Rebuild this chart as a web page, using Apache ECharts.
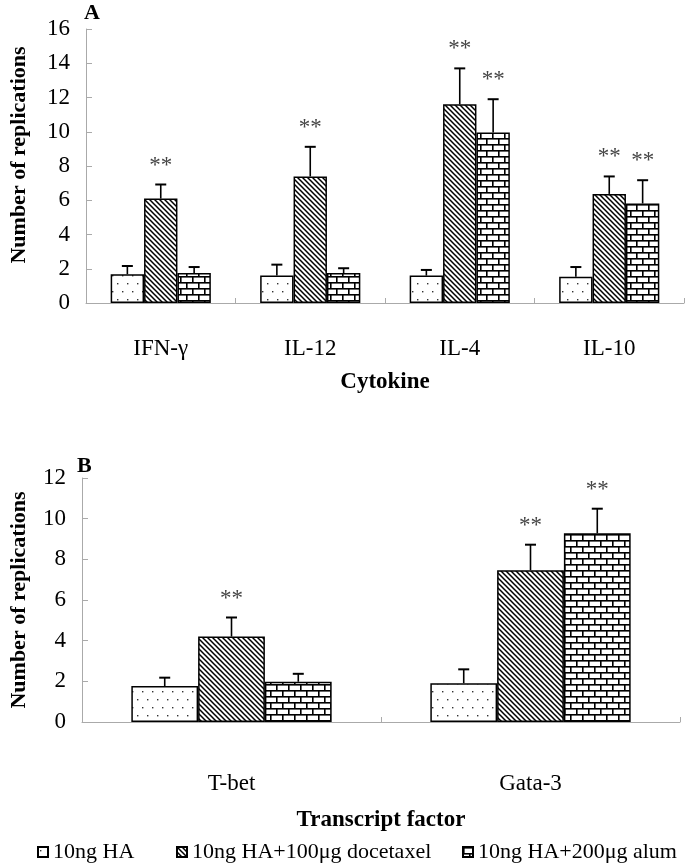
<!DOCTYPE html>
<html>
<head>
<meta charset="utf-8">
<script src="https://cdn.jsdelivr.net/npm/echarts@6/dist/echarts.min.js"></script>
<style>
html,body{margin:0;padding:0;background:#fff;}
#chart{width:685px;height:864px;}
</style>
</head>
<body>
<div id="chart"></div>
<script>
// ---- Data ----
var seriesNames = ['10ng HA', '10ng HA+100\u03bcg docetaxel', '10ng HA+200\u03bcg alum'];

var categoriesA = ['IFN-\u03b3', 'IL-12', 'IL-4', 'IL-10'];
var haA = [1.68, 1.6, 1.6, 1.54];
var haErrA = [0.48, 0.64, 0.33, 0.56];
var docA = [6.1, 7.39, 11.6, 6.37];
var docErrA = [0.82, 1.73, 2.1, 1.02];
var alumA = [1.75, 1.75, 9.96, 5.81];
var alumErrA = [0.35, 0.28, 1.94, 1.36];
var haSigA = [0, 0, 0, 0];
var docSigA = [1, 1, 1, 1];
var alumSigA = [0, 0, 1, 1];
var yTicksA = [0, 2, 4, 6, 8, 10, 12, 14, 16];

var categoriesB = ['T-bet', 'Gata-3'];
var haB = [1.77, 1.91];
var haErrB = [0.41, 0.68];
var docB = [4.2, 7.46];
var docErrB = [0.94, 1.26];
var alumB = [1.98, 9.28];
var alumErrB = [0.39, 1.21];
var haSigB = [0, 0];
var docSigB = [1, 1];
var alumSigB = [0, 1];
var yTicksB = [0, 2, 4, 6, 8, 10, 12];

// ---- Patterns ----
function makeCanvas(w, h, draw) {
  var c = document.createElement('canvas');
  c.width = w; c.height = h;
  var ctx = c.getContext('2d');
  ctx.fillStyle = '#fff';
  ctx.fillRect(0, 0, w, h);
  draw(ctx);
  return c;
}
var dotCanvas = makeCanvas(10, 16, function (ctx) {
  ctx.fillStyle = '#333';
  ctx.fillRect(2, 3, 1.4, 1.4);
  ctx.fillRect(7, 11, 1.4, 1.4);
});
var hatchCanvas = makeCanvas(5, 5, function (ctx) {
  ctx.strokeStyle = '#000';
  ctx.lineWidth = 1.5;
  ctx.beginPath();
  ctx.moveTo(-1, -1); ctx.lineTo(6, 6);
  ctx.moveTo(4, -1); ctx.lineTo(6, 1);
  ctx.moveTo(-1, 4); ctx.lineTo(1, 6);
  ctx.stroke();
});
var brickCanvas = makeCanvas(12, 12, function (ctx) {
  ctx.fillStyle = '#000';
  ctx.fillRect(0, 0, 12, 1.6);
  ctx.fillRect(0, 6, 12, 1.6);
  ctx.fillRect(0, 0, 1.6, 6);
  ctx.fillRect(6, 6, 1.6, 6);
});
var fills = [
  { image: dotCanvas, repeat: 'repeat' },
  { image: hatchCanvas, repeat: 'repeat' },
  { image: brickCanvas, repeat: 'repeat' }
];

var FONT = 'Liberation Serif';
var GAP = 0.33;

function errRender(k) {
  return function (params, api) {
    var ci = api.value(0), v = api.value(1), e = api.value(2), s = api.value(3);
    var base = api.coord([ci, v]);
    var band = api.size([1, 0])[0];
    var w = band * (1 - GAP) / 3;
    var x = base[0] + (k - 1) * w;
    var yTop = api.coord([ci, v + e])[1];
    var children = [
      { type: 'line', shape: { x1: x, y1: base[1], x2: x, y2: yTop }, style: { stroke: '#000', lineWidth: 1.6 } },
      { type: 'line', shape: { x1: x - 5.5, y1: yTop, x2: x + 5.5, y2: yTop }, style: { stroke: '#000', lineWidth: 2 } }
    ];
    if (s) {
      children.push({ type: 'text', style: { text: '**', x: x, y: yTop - 19, textAlign: 'center', textVerticalAlign: 'middle', font: '23px "Liberation Serif"', fill: '#444' } });
    }
    return { type: 'group', children: children };
  };
}

function buildSeries(gridIdx, vals, errs, sigs) {
  var out = [];
  for (var k = 0; k < 3; k++) {
    out.push({
      name: seriesNames[k], type: 'bar', xAxisIndex: gridIdx, yAxisIndex: gridIdx,
      data: vals[k], barGap: '0%', barCategoryGap: (GAP * 100) + '%',
      itemStyle: { color: fills[k], borderColor: '#000', borderWidth: 1.5 },
      animation: false
    });
  }
  for (var k2 = 0; k2 < 3; k2++) {
    var d = vals[k2].map(function (v, i) { return [i, v, errs[k2][i], sigs[k2][i]]; });
    out.push({
      type: 'custom', xAxisIndex: gridIdx, yAxisIndex: gridIdx, data: d,
      renderItem: errRender(k2), encode: { x: 0, y: 1 }, z: 5, silent: true, animation: false
    });
  }
  return out;
}

var series = buildSeries(0, [haA, docA, alumA], [haErrA, docErrA, alumErrA], [haSigA, docSigA, alumSigA])
  .concat(buildSeries(1, [haB, docB, alumB], [haErrB, docErrB, alumErrB], [haSigB, docSigB, alumSigB]));

function xAxis(gridIdx, cats, name, gap, margin) {
  return {
    type: 'category', gridIndex: gridIdx, data: cats,
    name: name, nameLocation: 'middle', nameGap: gap,
    nameTextStyle: { fontFamily: FONT, fontWeight: 'bold', fontSize: 23, color: '#000' },
    axisLine: { lineStyle: { color: '#aaa', width: 1 } },
    axisTick: { show: true, inside: true, length: 5, lineStyle: { color: '#aaa' } },
    axisLabel: { fontFamily: FONT, fontSize: 23, color: '#000', margin: margin }
  };
}
function yAxis(gridIdx, ticks, gap, pad) {
  return {
    type: 'value', gridIndex: gridIdx, min: ticks[0], max: ticks[ticks.length - 1], interval: ticks[1] - ticks[0],
    name: 'Number of replications', nameLocation: 'middle', nameGap: gap, nameRotate: 90,
    nameTextStyle: { fontFamily: FONT, fontWeight: 'bold', fontSize: 22, color: '#000', padding: [0, 0, 0, pad] },
    axisLine: { show: true, lineStyle: { color: '#aaa', width: 1 } },
    axisTick: { show: true, inside: true, length: 6, lineStyle: { color: '#aaa' } },
    splitLine: { show: false },
    axisLabel: { fontFamily: FONT, fontSize: 23, color: '#000', margin: 16 }
  };
}

var legends = [32, 171, 457].map(function (left, i) {
  return {
    left: left, top: 836, data: [seriesNames[i]], icon: 'rect', itemWidth: 10, itemHeight: 10, itemGap: 5,
    textStyle: { fontFamily: FONT, fontSize: 22, color: '#000' }, selectedMode: false
  };
});

var option = {
  backgroundColor: '#fff',
  animation: false,
  grid: [
    { left: 85, top: 29, right: 1, height: 274 },
    { left: 81, top: 478, right: 5, height: 244 }
  ],
  xAxis: [xAxis(0, categoriesA, 'Cytokine', 68, 34), xAxis(1, categoriesB, 'Transcript factor', 87, 50)],
  yAxis: [yAxis(0, yTicksA, 56, 22), yAxis(1, yTicksB, 52, 0)],
  legend: legends,
  graphic: [
    { type: 'text', left: 84, top: 2, style: { text: 'A', font: 'bold 22px "Liberation Serif"', fill: '#000' } },
    { type: 'text', left: 77, top: 455, style: { text: 'B', font: 'bold 22px "Liberation Serif"', fill: '#000' } }
  ],
  series: series
};

var chart = echarts.init(document.getElementById('chart'), null, { renderer: 'canvas' });
chart.setOption(option);
</script>
</body>
</html>
